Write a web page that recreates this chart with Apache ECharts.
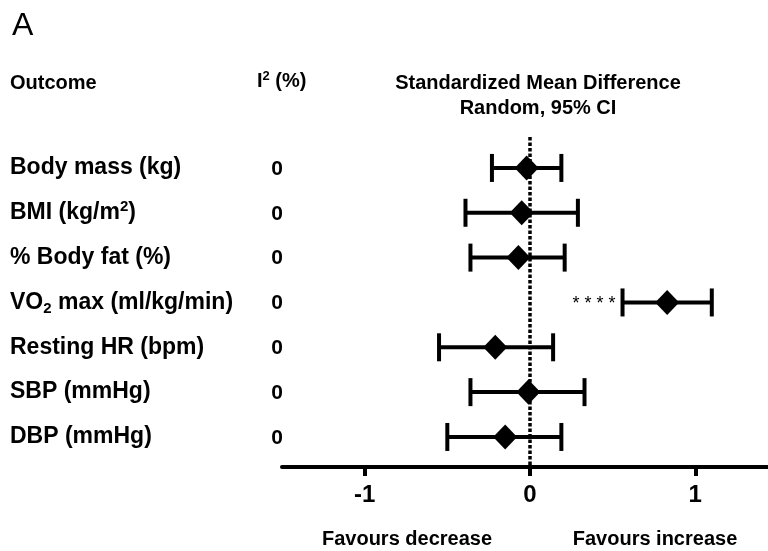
<!DOCTYPE html>
<html>
<head>
<meta charset="utf-8">
<script src="https://cdn.jsdelivr.net/npm/echarts@6.0.0/dist/echarts.min.js"></script>
<style>
  html, body { margin: 0; padding: 0; background: #fff; }
  #chart { width: 768px; height: 551px; }
</style>
</head>
<body>
<div id="chart"></div>
<script>
// outcomes, rich-text labels use {sup|..} / {sub|..}
var outcomes = [
  'Body mass (kg)',
  'BMI (kg/m{sup|2})',
  '% Body fat (%)',
  'VO{sub|2} max (ml/kg/min)',
  'Resting HR (bpm)',
  'SBP (mmHg)',
  'DBP (mmHg)'
];
var i2 = [0, 0, 0, 0, 0, 0, 0];
var smd = [-0.02, -0.05, -0.07, 0.83, -0.21, -0.01, -0.15];
var ciLow = [-0.23, -0.39, -0.36, 0.56, -0.55, -0.36, -0.50];
var ciHigh = [0.19, 0.29, 0.21, 1.10, 0.14, 0.33, 0.19];
var signif = ['', '', '', '* * * *', '', '', ''];
var tickValues = [-1, 0, 1];

var font = 'Liberation Sans, Arial, sans-serif';
var dom = document.getElementById('chart');
var myChart = echarts.init(dom);

var rows = outcomes.map(function (o, i) {
  return [ciLow[i], ciHigh[i], i, smd[i]];
});

var option = {
  animation: false,
  grid: { left: 282, top: 137, right: 0, height: 330, outerBoundsMode: 'none' },
  xAxis: {
    type: 'value',
    min: -1.5,
    max: 1.44,
    splitLine: { show: false },
    axisLine: { show: true, onZero: false, lineStyle: { color: '#000', width: 4 } },
    axisTick: { show: true, customValues: tickValues, length: 9, lineStyle: { color: '#000', width: 4 } },
    axisLabel: {
      customValues: tickValues,
      margin: 16,
      color: '#000',
      fontFamily: font,
      fontWeight: 'bold',
      fontSize: 24
    }
  },
  yAxis: {
    type: 'value',
    inverse: true,
    min: -0.69,
    max: 6.67,
    show: false
  },
  series: [
    {
      type: 'custom',
      data: rows,
      encode: { x: [0, 1], y: 2 },
      renderItem: function (params, api) {
        var lo = api.coord([api.value(0), api.value(2)]);
        var hi = api.coord([api.value(1), api.value(2)]);
        var y = lo[1];
        var idx = params.dataIndex;
        var cap = 14;
        var ls = { stroke: '#000', lineWidth: 4 };
        var children = [
          { type: 'line', shape: { x1: lo[0], y1: y, x2: hi[0], y2: y }, style: ls },
          { type: 'line', shape: { x1: lo[0], y1: y - cap, x2: lo[0], y2: y + cap }, style: ls },
          { type: 'line', shape: { x1: hi[0], y1: y - cap, x2: hi[0], y2: y + cap }, style: ls },
          {
            type: 'text',
            x: 10, y: y,
            style: {
              text: outcomes[idx],
              fill: '#000',
              font: 'bold 23px ' + font,
              verticalAlign: 'middle',
              align: 'left',
              rich: {
                sup: { fontSize: 15, fontWeight: 'bold', fontFamily: font, padding: [0, 0, 12, 0] },
                sub: { fontSize: 15, fontWeight: 'bold', fontFamily: font, padding: [12, 0, 0, 0] }
              }
            }
          },
          {
            type: 'text',
            x: 277, y: y + 1,
            style: {
              text: String(i2[idx]),
              fill: '#000',
              font: 'bold 21px ' + font,
              verticalAlign: 'middle',
              align: 'center'
            }
          }
        ];
        if (signif[idx]) {
          children.push({
            type: 'text',
            x: lo[0] - 7, y: y + 2,
            style: {
              text: signif[idx],
              fill: '#000',
              font: '18px ' + font,
              verticalAlign: 'middle',
              align: 'right'
            }
          });
        }
        return { type: 'group', children: children };
      },
      markLine: {
        silent: true,
        symbol: 'none',
        label: { show: false },
        lineStyle: { color: '#000', width: 3.5, type: [3.5, 2] },
        data: [{ xAxis: 0 }]
      },
      z: 2
    },
    {
      type: 'scatter',
      data: smd.map(function (v, i) { return [v, i]; }),
      symbol: 'diamond',
      symbolSize: [24, 25],
      itemStyle: { color: '#000', opacity: 1 },
      z: 3
    }
  ],
  graphic: [
    { type: 'text', left: 12, top: 10, style: { text: 'A', font: '32px ' + font, fill: '#000' } },
    { type: 'text', left: 10, top: 73, style: { text: 'Outcome', font: 'bold 20px ' + font, fill: '#000' } },
    {
      type: 'text', left: 257, top: 70,
      style: {
        text: 'I{sup|2} (%)', font: 'bold 20px ' + font, fill: '#000',
        rich: { sup: { fontSize: 13, fontWeight: 'bold', fontFamily: font, padding: [0, 0, 10, 0] } }
      }
    },
    {
      type: 'text', x: 538, y: 71,
      style: {
        text: 'Standardized Mean Difference\nRandom, 95% CI',
        font: 'bold 20px ' + font, fill: '#000', align: 'center', lineHeight: 25
      }
    },
    { type: 'text', x: 407, y: 539, style: { text: 'Favours decrease', font: 'bold 20px ' + font, fill: '#000', align: 'center', verticalAlign: 'middle' } },
    { type: 'text', x: 655, y: 539, style: { text: 'Favours increase', font: 'bold 20px ' + font, fill: '#000', align: 'center', verticalAlign: 'middle' } }
  ]
};

myChart.setOption(option, true);
</script>
</body>
</html>
